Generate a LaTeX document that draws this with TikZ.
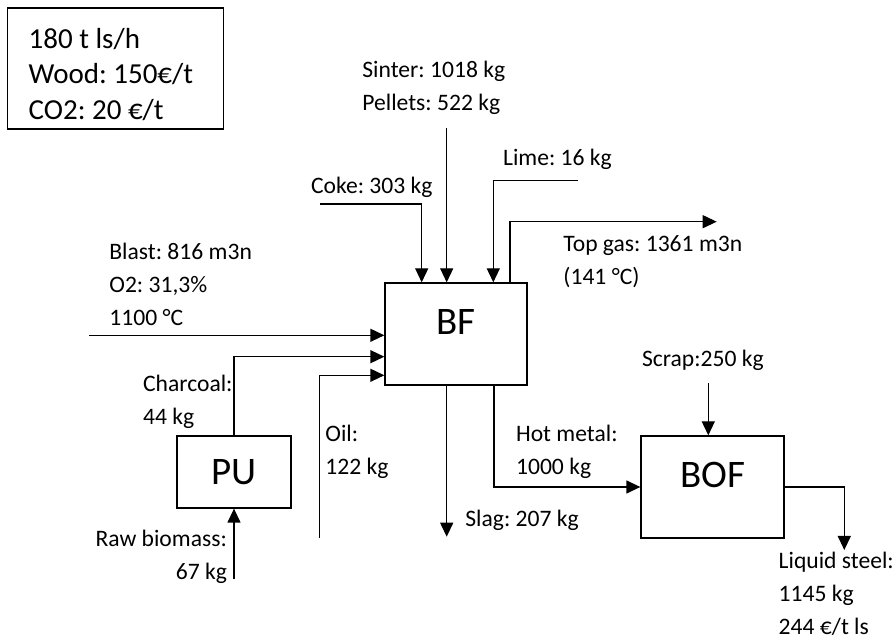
\documentclass[tikz,border=0pt]{standalone}
\usepackage{fontspec}
\setmainfont{Carlito}
\usetikzlibrary{arrows.meta,positioning,calc}
\frenchspacing

\begin{document}
\begin{tikzpicture}[
    x=0.5pt, y=-0.5pt,
    unit/.style={draw, line width=0.65pt, inner sep=0pt, font=\fontsize{19.5}{20}\selectfont},
    info/.style={draw, line width=0.65pt, anchor=west, inner xsep=10.5pt, text width=87pt, align=flush left,
        minimum width=108pt, minimum height=60.5pt, font=\fontsize{14.5}{17.9}\selectfont},
    lbl/.style={anchor=base west, align=left, inner sep=0pt, font=\fontsize{11.8}{16.5}\selectfont},
    flow/.style={line width=0.65pt, -{Triangle[length=7pt, width=6.5pt]}}
]
\useasboundingbox (0,0) rectangle (896,641);

% units
\node[unit, minimum width=71pt, minimum height=51pt, text depth=12.5pt] (bf) at (456,334) {BF};
\node[unit, minimum width=71.5pt, minimum height=51pt, text depth=12.5pt] (bof) at (712.5,487) {BOF};
\node[unit, minimum width=57pt, minimum height=36pt] (pu) at (234,472) {PU};

% Daten
\node[info] (data) at (7,68.5) {\rule{0pt}{16pt}180 t ls/h\\Wood: 150€/t\\CO2: 20 €/t};

% free ends
\coordinate (sinterin) at (446.7,128);
\coordinate (cokein) at (320,204);
\coordinate (cokedrop) at (421.7,204);
\coordinate (limein) at (578,180.7);
\coordinate (limedrop) at (493.3,180.7);
\coordinate (gasup) at (510,221.7);
\coordinate (gasout) at (716.7,221.7);
\coordinate (blastin) at (89.3,335.3);
\coordinate (charup) at (234,356.7);
\coordinate (oilin) at (319.3,538.3);
\coordinate (oilup) at (319.3,375.3);
\coordinate (bioin) at (234,579.3);
\coordinate (slagout) at (446.7,536.7);
\coordinate (hmdown) at (494,487);
\coordinate (scrapin) at (708.3,383.3);
\coordinate (lsdown) at (844.3,487);
\coordinate (lsout) at (844.3,550);

% Ströme
\draw[flow] (sinterin) -- (sinterin |- bf.north);
\draw[flow] (cokein) -- (cokedrop) -- (cokedrop |- bf.north);
\draw[flow] (limein) -- (limedrop) -- (limedrop |- bf.north);
\draw[flow] (gasup |- bf.north) -- (gasup) -- (gasout);
\draw[flow] (blastin) -- (blastin -| bf.west);
\draw[flow] (pu.north) -- (charup) -- (charup -| bf.west);
\draw[flow] (oilin) -- (oilup) -- (oilup -| bf.west);
\draw[flow] (bioin) -- (pu.south);
\draw[flow] (slagout |- bf.south) -- (slagout);
\draw[flow] (hmdown |- bf.south) -- (hmdown) -- (bof.west);
\draw[flow] (scrapin) -- (scrapin |- bof.north);
\draw[flow] (bof.east) -- (lsdown) -- (lsout);

% labels (base = last line)
\node[lbl] (sinter) at (362,110.7) {Sinter: 1018 kg\\Pellets: 522 kg};
\node[lbl] (coke) at (310.7,194) {Coke: 303 kg};
\node[lbl] (lime) at (502.7,166) {Lime: 16 kg};
\node[lbl] (topgas) at (563,284.7) {Top gas: 1361 m3n\\(141 °C)};
\node[lbl] (blast) at (109,326) {Blast: 816 m3n\\O2: 31,3\%\\1100 °C};
\node[lbl] (charcoal) at (142.7,425) {Charcoal:\\44 kg};
\node[lbl] (oil) at (325,475) {Oil:\\122 kg};
\node[lbl, anchor=base east, align=right] (rawbio) at (227.3,580) {Raw biomass:\\67 kg};
\node[lbl] (slag) at (465,526.7) {Slag: 207 kg};
\node[lbl] (hotmetal) at (515.7,475) {Hot metal:\\1000 kg};
\node[lbl] (scrap) at (641.7,366.7) {Scrap:250 kg};
\node[lbl] (liquid) at (778.3,635) {Liquid steel:\\1145 kg\\244 €/t ls};

\end{tikzpicture}
\end{document}
